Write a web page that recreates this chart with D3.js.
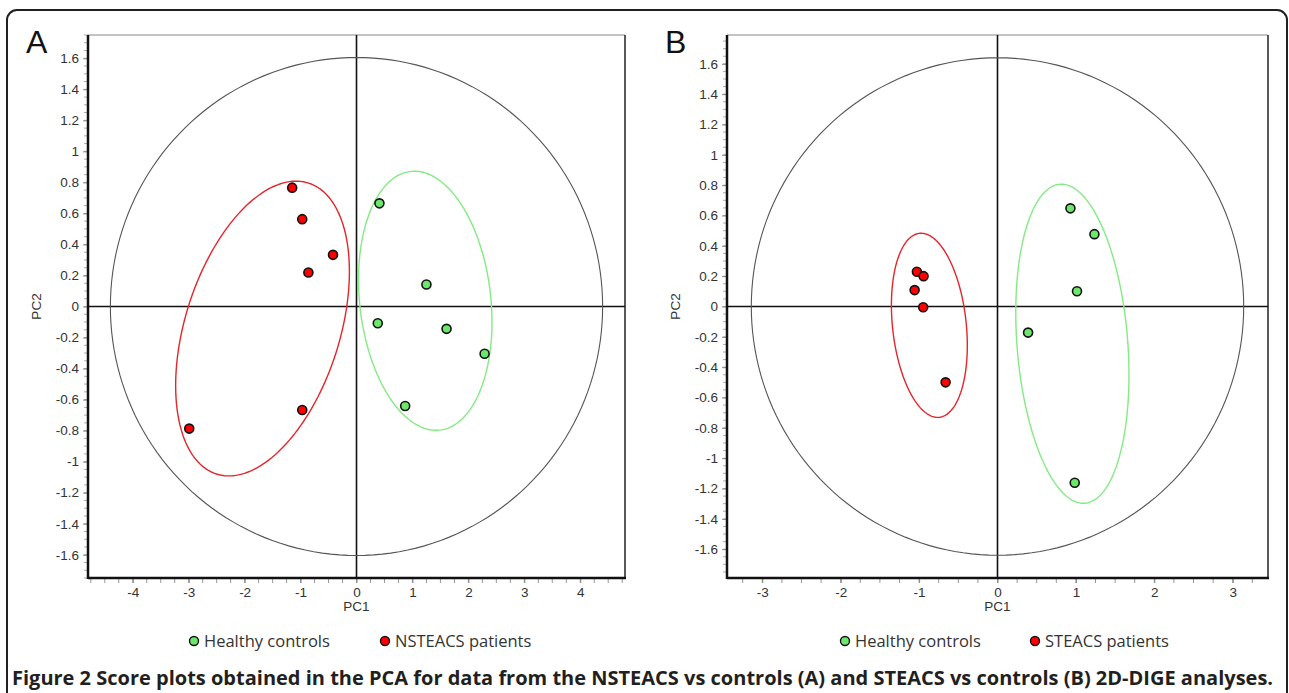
<!DOCTYPE html>
<html lang="en">
<head>
<meta charset="utf-8">
<script src="https://d3js.org/d3.v7.min.js"></script>
<style>
body { margin: 0; background: #fff; }
.tick text { font-family: "Liberation Sans", Arial, sans-serif; font-size: 13.5px; fill: #333; }
.axlab { font-family: "Liberation Sans", Arial, sans-serif; font-size: 13.5px; fill: #333; }
.legend text { font-family: "Open Sans", sans-serif; font-size: 16.5px; fill: #333; }
.caption { font-family: "Open Sans", sans-serif; font-size: 20px; font-weight: bold; fill: #231f20; }
</style>
</head>
<body>
<svg width="1289" height="693"></svg>
<script>
// panel A: NSTEACS vs controls
var aControlsPC1 = [0.41, 1.25, 0.38, 1.61, 2.29, 0.87];
var aControlsPC2 = [0.665, 0.142, -0.108, -0.144, -0.305, -0.641];
var aPatientsPC1 = [-1.15, -0.97, -0.42, -0.86, -0.97, -2.99];
var aPatientsPC2 = [0.766, 0.563, 0.333, 0.219, -0.667, -0.787];
// panel B: STEACS vs controls
var bControlsPC1 = [0.93, 1.236, 1.014, 0.39, 0.985];
var bControlsPC2 = [0.647, 0.477, 0.101, -0.172, -1.162];
var bPatientsPC1 = [-1.028, -0.943, -1.057, -0.948, -0.662];
var bPatientsPC2 = [0.229, 0.200, 0.108, -0.005, -0.50];

// confidence ellipses: [centre PC1, centre PC2, half-width, half-height, correlation]
var aControlsEllipse = [1.229, 0.037, 1.193, 0.835, -0.162];
var aPatientsEllipse = [-1.68, -0.142, 1.553, 0.950, 0.387];
var bControlsEllipse = [0.955, -0.2455, 0.722, 1.052, -0.194];
var bPatientsEllipse = [-0.869, -0.124, 0.484, 0.607, -0.218];
// Hotelling T2 ellipse half-axes
var aT2 = [4.40, 1.605];
var bT2 = [3.14, 1.64];

var aXTicks = [-4, -3, -2, -1, 0, 1, 2, 3, 4];
var bXTicks = [-3, -2, -1, 0, 1, 2, 3];
var yTicks = [-1.6, -1.4, -1.2, -1, -0.8, -0.6, -0.4, -0.2, 0, 0.2, 0.4, 0.6, 0.8, 1, 1.2, 1.4, 1.6];

var svg = d3.select("svg");

// outer figure frame
svg.append("path")
  .attr("d", "M7,700 V20 A10,10 0 0 1 17,10 H1277 A10,10 0 0 1 1287,20 V700")
  .attr("fill", "none").attr("stroke", "#231f20").attr("stroke-width", 2);

var red = "#ff0000", green = "#6be86b";
var hyphen = function(d) { return String(+d.toFixed(1)); };

function panel(opt) {
  var x = d3.scaleLinear().domain(opt.xDomain).range([opt.left, opt.right]);
  var y = d3.scaleLinear().domain(opt.yDomain).range([578, 35]);
  var g = svg.append("g");

  // minor ticks
  var xMinor = d3.range(Math.ceil(opt.xDomain[0] * 4) / 4, opt.xDomain[1], 0.25);
  g.append("g").selectAll("line").data(xMinor).enter().append("line")
    .attr("x1", function(d) { return x(d); }).attr("x2", function(d) { return x(d); })
    .attr("y1", 579).attr("y2", 583).attr("stroke", "#999");
  var yMinor = d3.range(-1.75, 1.76, 0.05);
  g.append("g").selectAll("line").data(yMinor).enter().append("line")
    .attr("y1", function(d) { return y(d); }).attr("y2", function(d) { return y(d); })
    .attr("x1", opt.left - 4).attr("x2", opt.left).attr("stroke", "#aaa");

  var xAxis = g.append("g").attr("transform", "translate(0,578)")
    .call(d3.axisBottom(x).tickValues(opt.xTicks).tickSize(5).tickPadding(4).tickFormat(hyphen));
  xAxis.select(".domain").remove();
  xAxis.selectAll(".tick line").attr("stroke", "#888");
  var yAxis = g.append("g").attr("transform", "translate(" + opt.left + ",0)")
    .call(d3.axisLeft(y).tickValues(yTicks).tickSize(5).tickPadding(4).tickFormat(hyphen));
  yAxis.select(".domain").remove();
  yAxis.selectAll(".tick line").attr("stroke", "#888");

  // plot frame
  g.append("line").attr("x1", opt.left).attr("x2", opt.right).attr("y1", 35).attr("y2", 35)
    .attr("stroke", "#888").attr("stroke-width", 1);
  g.append("line").attr("x1", opt.right).attr("x2", opt.right).attr("y1", 35).attr("y2", 578)
    .attr("stroke", "#222").attr("stroke-width", 1.5);
  g.append("line").attr("x1", opt.left).attr("x2", opt.left).attr("y1", 35).attr("y2", 579)
    .attr("stroke", "#111").attr("stroke-width", 2.5);
  g.append("line").attr("x1", opt.left).attr("x2", opt.right + 1).attr("y1", 578).attr("y2", 578)
    .attr("stroke", "#111").attr("stroke-width", 2.5);

  // zero lines
  g.append("line").attr("x1", x(0)).attr("x2", x(0)).attr("y1", 35).attr("y2", 578)
    .attr("stroke", "#111").attr("stroke-width", 1.6);
  g.append("line").attr("x1", opt.left).attr("x2", opt.right).attr("y1", y(0)).attr("y2", y(0))
    .attr("stroke", "#111").attr("stroke-width", 1.6);

  var ts = d3.range(0, 2 * Math.PI, Math.PI / 90);
  var ellipse = function(e) {
    return d3.line().curve(d3.curveLinearClosed)
      .x(function(t) { return x(e[0] + e[2] * Math.cos(t)); })
      .y(function(t) { return y(e[1] + e[3] * (e[4] * Math.cos(t) + Math.sqrt(1 - e[4] * e[4]) * Math.sin(t))); })(ts);
  };

  g.append("path").attr("d", ellipse([0, 0, opt.t2[0], opt.t2[1], 0]))
    .attr("fill", "none").attr("stroke", "#555").attr("stroke-width", 1.1);
  g.append("path").attr("d", ellipse(opt.patEll))
    .attr("fill", "none").attr("stroke", "#e3262b").attr("stroke-width", 1.4);
  g.append("path").attr("d", ellipse(opt.conEll))
    .attr("fill", "none").attr("stroke", "#84ea84").attr("stroke-width", 1.4);

  function dots(px, py, fill) {
    g.append("g").selectAll("circle").data(px).enter().append("circle")
      .attr("cx", function(d) { return x(d); })
      .attr("cy", function(d, i) { return y(py[i]); })
      .attr("r", 4.5).attr("fill", fill).attr("stroke", "#111").attr("stroke-width", 1.6);
  }
  dots(opt.conX, opt.conY, green);
  dots(opt.patX, opt.patY, red);

  g.append("text").attr("class", "axlab").attr("x", x(0)).attr("y", 611)
    .attr("text-anchor", "middle").text("PC1");
  g.append("text").attr("class", "axlab")
    .attr("transform", "translate(" + (opt.left - 47) + "," + y(0) + ") rotate(-90)")
    .attr("text-anchor", "middle").text("PC2");

  g.append("text").attr("x", opt.left - 62).attr("y", 53)
    .attr("font-family", "Liberation Sans, Arial, sans-serif").attr("font-size", 32)
    .attr("fill", "#111").text(opt.letter);

  var lg = g.append("g").attr("class", "legend");
  lg.append("circle").attr("cx", opt.legX[0]).attr("cy", 641).attr("r", 4.5)
    .attr("fill", green).attr("stroke", "#111").attr("stroke-width", 1.4);
  lg.append("text").attr("x", opt.legX[0] + 10).attr("y", 647).text("Healthy controls");
  lg.append("circle").attr("cx", opt.legX[1]).attr("cy", 641).attr("r", 4.5)
    .attr("fill", red).attr("stroke", "#111").attr("stroke-width", 1.4);
  lg.append("text").attr("x", opt.legX[1] + 10).attr("y", 647).text(opt.patLabel);
}

panel({
  letter: "A", left: 88, right: 625, xDomain: [-4.8, 4.8], yDomain: [-1.75, 1.75],
  xTicks: aXTicks, t2: aT2, conEll: aControlsEllipse, patEll: aPatientsEllipse,
  conX: aControlsPC1, conY: aControlsPC2, patX: aPatientsPC1, patY: aPatientsPC2,
  legX: [194, 385], patLabel: "NSTEACS patients"
});
panel({
  letter: "B", left: 727, right: 1268, xDomain: [-3.45, 3.45], yDomain: [-1.79, 1.79],
  xTicks: bXTicks, t2: bT2, conEll: bControlsEllipse, patEll: bPatientsEllipse,
  conX: bControlsPC1, conY: bControlsPC2, patX: bPatientsPC1, patY: bPatientsPC2,
  legX: [845, 1035], patLabel: "STEACS patients"
});

var cap = svg.append("text").attr("class", "caption").attr("x", 12).attr("y", 685);
cap.append("tspan").text("Figure 2 ");
cap.append("tspan").text("Score plots obtained in the PCA for data from the NSTEACS vs controls (A) and STEACS vs controls (B) 2D-DIGE analyses.");
</script>
</body>
</html>
